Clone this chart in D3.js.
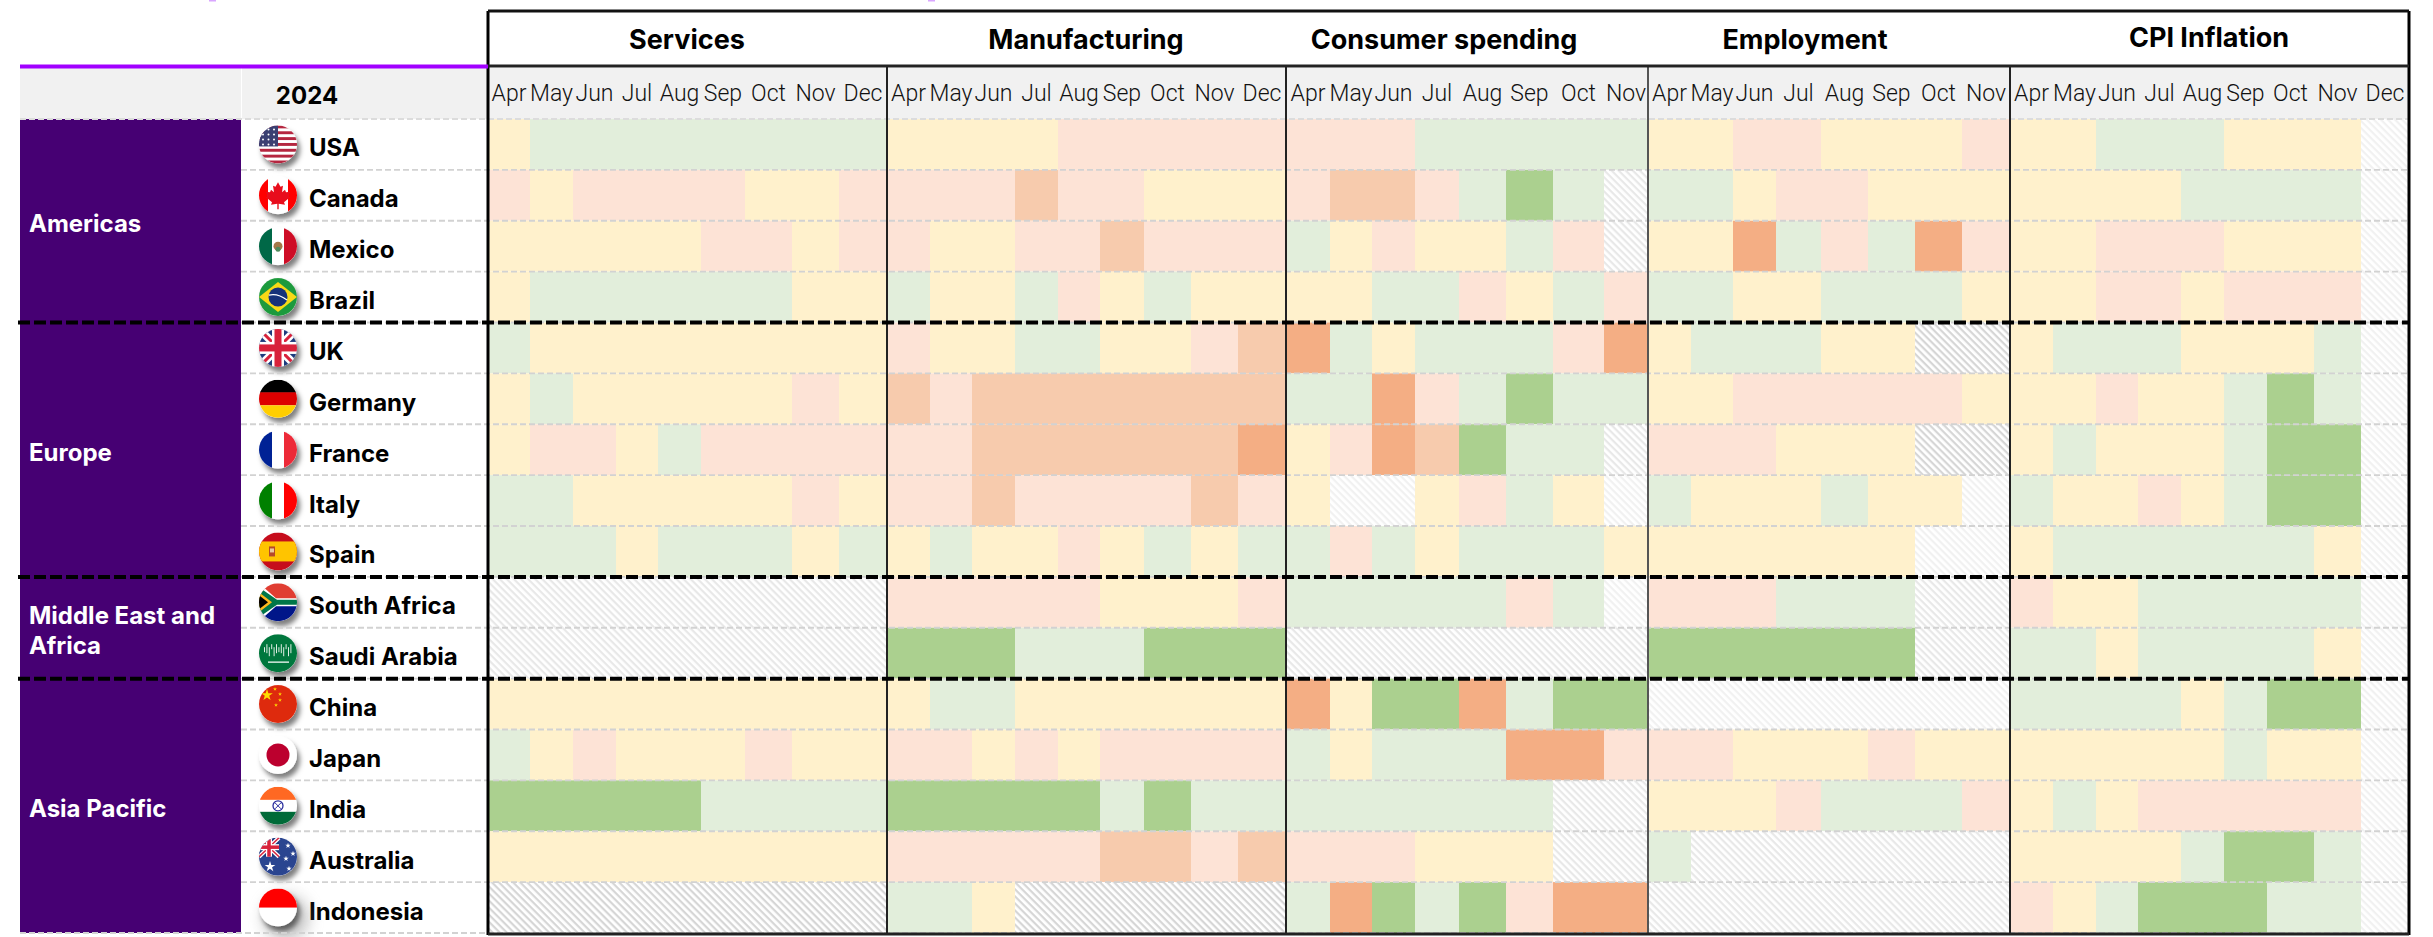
<!DOCTYPE html>
<html>
<head>
<meta charset="utf-8">
<title>Economic activity heatmap 2024</title>
<script src="https://cdnjs.cloudflare.com/ajax/libs/d3/7.8.5/d3.min.js"></script>
<style>
    body { margin: 0; background: #fff; }
    text { font-family: Inter, Roboto, sans-serif; }
</style>
</head>
<body>
<div id="chart_box"></div>
<script>
var yearLabel = "2024";
var regions = ["Americas", "Europe", "Middle East and Africa", "Asia Pacific"];
var regionSizes = [4, 5, 2, 5];
var countries = ["USA", "Canada", "Mexico", "Brazil", "UK", "Germany", "France", "Italy", "Spain",
    "South Africa", "Saudi Arabia", "China", "Japan", "India", "Australia", "Indonesia"];
var panelNames = ["Services", "Manufacturing", "Consumer spending", "Employment", "CPI Inflation"];
var monthsFull = ["Apr", "May", "Jun", "Jul", "Aug", "Sep", "Oct", "Nov", "Dec"];
var monthsShort = ["Apr", "May", "Jun", "Jul", "Aug", "Sep", "Oct", "Nov"];

// one letter per month: A strong green, G light green, Y yellow, P pink, O orange, D dark orange
// x, n, l = no data (hatched, heavy to faint)
var services = ["YGGGGGGGG", "PYPPPPYYP", "YYYYYPPYP", "YGGGGGGYY", "GYYYYYYYY", "YGYYYYYPY", "YPPYGPPPP", "GGYYYYYPY",
    "GGGYGGGYG", "nnnnnnnnn", "nnnnnnnnn", "YYYYYYYYY", "GYPYYYPYY", "AAAAAGGGG", "YYYYYYYYY", "xxxxxxxxx"];
var manufacturing = ["YYYYPPPPP", "PPPOPPYYY", "PYYPPOPPP", "GYYGPYGYY", "PYYGGYYPO", "OPOOOOOOO", "PPOOOOOOD", "PPOPPPPOP",
    "YGYYPYGYG", "PPPPPYYYP", "AAAGGGAAA", "YGGYYYYYY", "PPYPYPPPP", "AAAAAGAGG", "PPPPPOOPO", "GGYxxxxxx"];
var consumer = ["PPPGGGGG", "POOPGAGn", "GYPYYGPn", "YYGGPYGP", "DGYGGGPD", "GGDPGAGG", "YPDOAGGn", "YllYPGYl",
    "GPGYGGGY", "GGGGGPGl", "nnnnnnnn", "DYAADGAA", "GYGGGDDP", "GGGGGGnn", "PPPYYYnn", "GDAGAPDD"];
var employment = ["YYPPYYYP", "GGYPPYYY", "YYDGPGDP", "GGYYGGGY", "YGGGYYxx", "YYPPPPPY", "PPPYYYxx", "GYYYGYYl",
    "YYYYYYll", "PPPGGGnn", "AAAAAAnn", "llllllll", "PPYYYPYY", "YYYPGGGP", "Gnnnnnnn", "nnnnnnnn"];
var cpi = ["YYGGGYYYl", "YYYYGGGGl", "YYPPPYYYl", "YYPPYPPPl", "YGGGYYYGl", "YYPYYGAGl", "YGYYYGAAl", "GYYPYGAAl",
    "YGGGGGGYl", "PYYGGGGGl", "GGYGGGGYl", "GGGGYGAAl", "YYYYYGYYl", "YGYPPPPPl", "YYYYGAAGl", "PYGAAAGGl"];

var panelRows = [services, manufacturing, consumer, employment, cpi];
var panelMonths = [monthsFull, monthsFull, monthsShort, monthsShort, monthsFull];

// layout, the columns in the source are not evenly spaced
var width = 2433, height = 937;
var left = 20, regionRight = 241, tableLeft = 488, tableRight = 2409;
var top_ = 11, titleBottom = 66, headBottom = 119, bottom = 933;
var panelEdges = [
    [488, 530, 573, 616, 658, 701, 745, 792, 839, 887],
    [887, 930, 972, 1015, 1058, 1100, 1144, 1191, 1238, 1286],
    [1286, 1330, 1372, 1415, 1459, 1506, 1553, 1604, 1648],
    [1648, 1691, 1733, 1776, 1821, 1868, 1915, 1962, 2010],
    [2010, 2053, 2096, 2138, 2181, 2224, 2267, 2314, 2361, 2409]
];
var titleX = [687, 1086, 1444, 1805, 2209];
var titleY = [49, 49, 49, 49, 47];

var ratingColor = d3.scaleOrdinal()
    .domain(["A", "G", "Y", "P", "O", "D", "x", "n", "l"])
    .range(["#ABD08F", "#E2EEDB", "#FFF1CC", "#FDE3D6", "#F7CBAD", "#F4AE84",
        "url(#hatch-x)", "url(#hatch-n)", "url(#hatch-l)"]);

var y = d3.scaleBand().domain(countries).range([headBottom, bottom]);

// flag helpers, all drawn in a box of -19..19
function bar(g, x, y, w, h, fill) {
    return g.append("rect").attr("x", x).attr("y", y).attr("width", w).attr("height", h).attr("fill", fill);
}
function ln(g, x1, y1, x2, y2, stroke, sw) {
    return g.append("line").attr("x1", x1).attr("y1", y1).attr("x2", x2).attr("y2", y2).attr("stroke", stroke).attr("stroke-width", sw);
}
function star(g, x, y, size, fill) {
    return g.append("path")
        .attr("d", d3.symbol(d3.symbolStar, size)())
        .attr("transform", "translate(" + x + "," + y + ")")
        .attr("fill", fill);
}
function unionJack(g, x0, y0, w, h) {
    bar(g, x0, y0, w, h, "#1F3A7D");
    var sw = h / 38;
    ln(g, x0, y0, x0 + w, y0 + h, "#fff", 8 * sw);
    ln(g, x0 + w, y0, x0, y0 + h, "#fff", 8 * sw);
    ln(g, x0, y0, x0 + w, y0 + h, "#D8213B", 3 * sw);
    ln(g, x0 + w, y0, x0, y0 + h, "#D8213B", 3 * sw);
    bar(g, x0, y0 + h / 2 - 6 * sw, w, 12 * sw, "#fff");
    bar(g, x0 + w / 2 - 6 * sw, y0, 12 * sw, h, "#fff");
    bar(g, x0, y0 + h / 2 - 3.5 * sw, w, 7 * sw, "#D8213B");
    bar(g, x0 + w / 2 - 3.5 * sw, y0, 7 * sw, h, "#D8213B");
}

var flags = {
    "USA": function (g) {
        d3.range(7).forEach(function (i) { bar(g, -19, -19 + i * 38 / 6.5, 38, 38 / 13, "#B5283F"); });
        bar(g, -19, -19, 19, 21, "#3B3F72");
        d3.range(3).forEach(function (i) {
            d3.range(4).forEach(function (j) {
                g.append("circle").attr("cx", -15 + i * 5.5).attr("cy", -15 + j * 5).attr("r", 1).attr("fill", "#fff");
            });
        });
    },
    "Canada": function (g) {
        bar(g, -19, -19, 9, 38, "#FF0000");
        bar(g, 10, -19, 9, 38, "#FF0000");
        g.append("path")
            .attr("d", "M0,-13L2.5,-8.5L5,-9.5L4,-3L7,-5.5L8,-3L12,-3.5L10.5,1L12,2L6,7L7,9.5L0.7,8.5L0.7,14L-0.7,14L-0.7,8.5L-7,9.5L-6,7L-12,2L-10.5,1L-12,-3.5L-8,-3L-7,-5.5L-4,-3L-5,-9.5L-2.5,-8.5Z")
            .attr("fill", "#E8101C");
    },
    "Mexico": function (g) {
        bar(g, -19, -19, 13, 38, "#006847");
        bar(g, 6, -19, 13, 38, "#CE1126");
        g.append("circle").attr("r", 4.5).attr("fill", "#A3794A");
        g.append("circle").attr("cy", 3).attr("r", 2.5).attr("fill", "#4F8A5B");
    },
    "Brazil": function (g) {
        bar(g, -19, -19, 38, 38, "#1E9A3C");
        g.append("path").attr("d", "M0,-15L19,0L0,15L-19,0Z").attr("fill", "#F7D917");
        g.append("circle").attr("r", 9.5).attr("fill", "#12307A");
        g.append("path").attr("d", "M-9,-2Q0,-4 9,3").attr("fill", "none").attr("stroke", "#fff").attr("stroke-width", 1.3);
    },
    "UK": function (g) { unionJack(g, -19, -19, 38, 38); },
    "Germany": function (g) {
        bar(g, -19, -19, 38, 13, "#000");
        bar(g, -19, -6.5, 38, 13, "#DD0000");
        bar(g, -19, 6.5, 38, 13, "#FFCE00");
    },
    "France": function (g) {
        bar(g, -19, -19, 13, 38, "#002395");
        bar(g, 6, -19, 13, 38, "#ED2939");
    },
    "Italy": function (g) {
        bar(g, -19, -19, 13, 38, "#008000");
        bar(g, 6, -19, 13, 38, "#FF0000");
    },
    "Spain": function (g) {
        bar(g, -19, -19, 38, 38, "#C60B1E");
        bar(g, -19, -10, 38, 20, "#FFC400");
        bar(g, -9, -5, 6, 10, "#B5482A");
        bar(g, -8, -3, 4, 4, "#E8C9A0");
    },
    "South Africa": function (g) {
        bar(g, -19, -19, 38, 19, "#E03C31");
        bar(g, -19, 0, 38, 19, "#001489");
        g.append("path").attr("d", "M-19,-19L-2,-4H19V4H-2L-19,19Z").attr("fill", "#fff");
        g.append("path").attr("d", "M-19,-15L-1,-2.5H19V2.5H-1L-19,15Z").attr("fill", "#007749");
        g.append("path").attr("d", "M-19,-10L-6,0L-19,10Z").attr("fill", "#FFB81C");
        g.append("path").attr("d", "M-19,-7L-10,0L-19,7Z").attr("fill", "#000");
    },
    "Saudi Arabia": function (g) {
        bar(g, -19, -19, 38, 38, "#00773C");
        g.selectAll(".glyph")
            .data(d3.range(12))
            .enter().append("rect")
            .attr("x", function (i) { return -14 + i * 2.4; })
            .attr("y", function (i) { return i % 2 ? -9 : -6; })
            .attr("width", 1)
            .attr("height", function (i) { return i % 3 ? 9 : 5; })
            .attr("fill", "#dfeee4");
        ln(g, -10, 9, 11, 9, "#fff", 1.3);
    },
    "China": function (g) {
        bar(g, -19, -19, 38, 38, "#DE2910");
        star(g, -11, -9, 42, "#FFDE00");
        star(g, -3, -15, 5, "#FFDE00");
        star(g, 2, -10, 5, "#FFDE00");
        star(g, 2, -4, 5, "#FFDE00");
        star(g, -2, 1, 5, "#FFDE00");
    },
    "Japan": function (g) {
        g.append("circle").attr("r", 11.5).attr("fill", "#BC002D");
    },
    "India": function (g) {
        bar(g, -19, -19, 38, 13, "#FF6820");
        bar(g, -19, 6, 38, 13, "#046A38");
        g.append("circle").attr("r", 5).attr("fill", "#fff").attr("stroke", "#2A2F9E").attr("stroke-width", 1.3);
        g.append("path").attr("d", "M-3,-3L3,3M3,-3L-3,3").attr("stroke", "#2A2F9E").attr("stroke-width", 1);
    },
    "Australia": function (g) {
        bar(g, -19, -19, 38, 38, "#2B4590");
        unionJack(g, -19, -19, 20, 19);
        star(g, -8, 10, 36, "#fff");
        star(g, 10, -11, 9, "#fff");
        star(g, 15, -3, 9, "#fff");
        star(g, 8, 2, 9, "#fff");
        star(g, 11, 12, 9, "#fff");
    },
    "Indonesia": function (g) {
        bar(g, -19, -19, 38, 19, "#FF0000");
    }
};

var svg = d3.select("#chart_box").append("svg")
    .attr("width", width)
    .attr("height", height)
    .style("display", "block");

var defs = svg.append("defs");

// hatching for the months without data
[["x", "#d6d6d6"], ["n", "#e8e8e8"], ["l", "#f1f1f1"]].forEach(function (h) {
    var p = defs.append("pattern")
        .attr("id", "hatch-" + h[0])
        .attr("width", 5)
        .attr("height", 5)
        .attr("patternUnits", "userSpaceOnUse")
        .attr("patternTransform", "rotate(45)");
    p.append("rect").attr("width", 5).attr("height", 5).attr("fill", "#fff");
    p.append("rect").attr("width", 5).attr("height", 2.2).attr("fill", h[1]);
});

var shadow = defs.append("filter").attr("id", "flag-shadow")
    .attr("x", "-50%").attr("y", "-50%").attr("width", "200%").attr("height", "200%");
shadow.append("feDropShadow")
    .attr("dx", 3).attr("dy", 5).attr("stdDeviation", 2.5)
    .attr("flood-color", "#000").attr("flood-opacity", 0.5);
defs.append("filter").attr("id", "wide-blur")
    .attr("x", "-100%").attr("y", "-100%").attr("width", "300%").attr("height", "300%")
    .append("feGaussianBlur").attr("stdDeviation", 8);
defs.append("clipPath").attr("id", "flag-clip")
    .append("circle").attr("r", 19);

// header bands
svg.append("rect").attr("x", left).attr("y", 68).attr("width", tableRight - left).attr("height", headBottom - 68).attr("fill", "#F1F1F1");
svg.append("rect").attr("x", regionRight).attr("y", 68).attr("width", 1).attr("height", headBottom - 68).attr("fill", "#fff");

// small bits of the cropped title left at the very top
[212, 931].forEach(function (x) {
    svg.append("rect").attr("x", x - 3).attr("y", 0).attr("width", 7).attr("height", 1.5).attr("fill", "#D9A6FF");
});

// region blocks
var regionStart = 0;
var regionData = regions.map(function (name, i) {
    var d = { name: name, y0: y(countries[regionStart]), y1: y(countries[regionStart + regionSizes[i] - 1]) + y.bandwidth() };
    regionStart += regionSizes[i];
    return d;
});

svg.append("rect")
    .attr("x", left).attr("y", headBottom)
    .attr("width", regionRight - left).attr("height", bottom - headBottom)
    .attr("fill", "#460073");

var regionLabel = svg.selectAll(".region")
    .data(regionData)
    .enter().append("text")
    .attr("class", "region")
    .attr("fill", "#fff")
    .style("font-size", "24px")
    .style("font-weight", 700);
regionLabel.each(function (d) {
    var lines = d.name === "Middle East and Africa" ? ["Middle East and", "Africa"] : [d.name];
    var mid = (d.y0 + d.y1) / 2 + 10;
    d3.select(this).selectAll("tspan")
        .data(lines)
        .enter().append("tspan")
        .attr("x", 29)
        .attr("y", function (t, k) { return mid + 1 + (k - (lines.length - 1) / 2) * 30; })
        .text(function (t) { return t; });
});

// the cells, one panel at a time
panelRows.forEach(function (rows, p) {
    var months = panelMonths[p];
    var edges = panelEdges[p];
    var x = d3.scaleLinear().domain(d3.range(months.length + 1)).range(edges);
    var g = svg.append("g").attr("class", "panel");

    var cells = [];
    rows.forEach(function (row, r) {
        row.split("").forEach(function (code, m) {
            cells.push({ country: countries[r], month: m, code: code });
        });
    });

    g.selectAll("rect")
        .data(cells)
        .enter().append("rect")
        .attr("x", function (d) { return x(d.month); })
        .attr("y", function (d) { return y(d.country); })
        .attr("width", function (d) { return x(d.month + 1) - x(d.month); })
        .attr("height", y.bandwidth())
        .attr("fill", function (d) { return ratingColor(d.code); });

    g.selectAll("text")
        .data(months)
        .enter().append("text")
        .attr("x", function (d, i) { return (x(i) + x(i + 1)) / 2; })
        .attr("y", 101)
        .attr("text-anchor", "middle")
        .attr("fill", "#111")
        .style("font-family", "Roboto, sans-serif")
        .style("font-size", "23px")
        .style("font-weight", 300)
        .text(function (d) { return d; });

    svg.append("text")
        .attr("class", "panel-title")
        .attr("x", titleX[p])
        .attr("y", titleY[p])
        .attr("text-anchor", "middle")
        .attr("fill", "#000")
        .style("font-size", "27px")
        .style("font-weight", 700)
        .text(panelNames[p]);
});

// country rows
var row = svg.selectAll(".country")
    .data(countries)
    .enter().append("g")
    .attr("class", "country")
    .attr("transform", function (d) { return "translate(0," + (y(d) + y.bandwidth() / 2) + ")"; });

row.append("text")
    .attr("x", 309)
    .attr("y", 12)
    .attr("fill", "#000")
    .style("font-size", "24px")
    .style("font-weight", 700)
    .text(function (d) { return d; });

row.append("g")
    .attr("transform", "translate(278,0)")
    .each(function (d) {
        var g = d3.select(this);
        if (d === "Indonesia") {
            g.append("circle").attr("cx", 8).attr("cy", 10).attr("r", 22)
                .attr("fill", "#888").attr("opacity", 0.55).attr("filter", "url(#wide-blur)");
        }
        var outer = g.append("g").attr("filter", "url(#flag-shadow)");
        var f = outer.append("g").attr("clip-path", "url(#flag-clip)");
        f.append("rect").attr("x", -19).attr("y", -19).attr("width", 38).attr("height", 38).attr("fill", "#fff");
        flags[d](f);
    });

// row lines and frame go on top of the cells
svg.selectAll(".row-line")
    .data(d3.range(countries.length + 1))
    .enter().append("line")
    .attr("class", "row-line")
    .attr("x1", function (i) { return i === 0 || i === countries.length ? left : regionRight; })
    .attr("x2", tableRight)
    .attr("y1", function (i) { return headBottom + i * y.step(); })
    .attr("y2", function (i) { return headBottom + i * y.step(); })
    .attr("stroke", function (i) { return i === 0 ? "#dcdcdc" : "#D2D2D2"; })
    .attr("stroke-width", 1.8)
    .attr("stroke-dasharray", "6,3");

panelEdges.slice(1).forEach(function (e, i) {
    svg.append("line")
        .attr("x1", e[0]).attr("x2", e[0])
        .attr("y1", titleBottom).attr("y2", bottom)
        .attr("stroke", i === 2 ? "#555" : "#222")
        .attr("stroke-width", 2);
});

svg.append("line").attr("x1", tableLeft).attr("x2", tableLeft).attr("y1", top_).attr("y2", bottom + 2).attr("stroke", "#000").attr("stroke-width", 3);
svg.append("line").attr("x1", tableRight).attr("x2", tableRight).attr("y1", top_).attr("y2", bottom + 2).attr("stroke", "#000").attr("stroke-width", 3);
svg.append("line").attr("x1", tableLeft).attr("x2", tableRight).attr("y1", top_).attr("y2", top_).attr("stroke", "#111").attr("stroke-width", 3);
svg.append("line").attr("x1", tableLeft).attr("x2", tableRight).attr("y1", titleBottom).attr("y2", titleBottom).attr("stroke", "#222").attr("stroke-width", 3);
svg.append("line").attr("x1", tableLeft).attr("x2", tableRight).attr("y1", bottom + 1).attr("y2", bottom + 1).attr("stroke", "#222").attr("stroke-width", 3);
svg.append("line").attr("x1", left).attr("x2", tableLeft).attr("y1", titleBottom + .5).attr("y2", titleBottom + .5).attr("stroke", "#A100FF").attr("stroke-width", 4);

// region separators
regionData.slice(0, -1).forEach(function (d) {
    svg.append("line")
        .attr("x1", left - 2).attr("x2", tableRight + 1)
        .attr("y1", d.y1).attr("y2", d.y1)
        .attr("stroke", "#000")
        .attr("stroke-width", 4)
        .attr("stroke-dasharray", "12,4");
});

svg.append("text")
    .attr("x", 307)
    .attr("y", 104)
    .attr("text-anchor", "middle")
    .attr("fill", "#000")
    .style("font-size", "24px")
    .style("font-weight", 700)
    .text(yearLabel);
</script>
</body>
</html>
